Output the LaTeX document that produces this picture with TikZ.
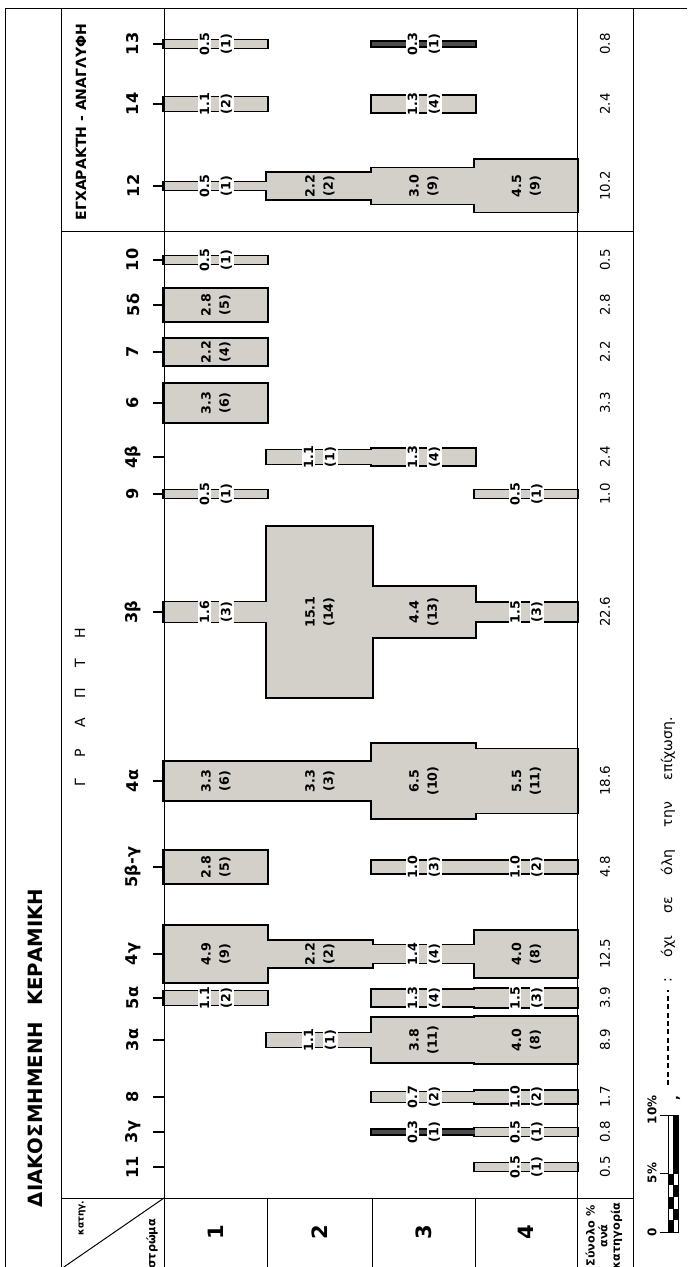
\documentclass[tikz,border=0pt]{standalone}
\usepackage{fontspec}
\setmainfont{DejaVu Sans}

\definecolor{barcol}{RGB}{210,208,200}

\tikzset{
  frame/.style={line width=0.7pt},
  edge/.style={line width=2.2pt},
  ticks/.style={line width=0.8pt},
  vallab/.style={rotate=90, inner sep=1pt, font=\bfseries\fontsize{9}{10}\selectfont},
  catlab/.style={rotate=90, font=\bfseries\fontsize{11.5}{13}\selectfont},
  totlab/.style={rotate=90, font=\fontsize{9.5}{11}\selectfont},
  rowlab/.style={rotate=90, font=\bfseries\fontsize{15}{16}\selectfont},
  seclab/.style={rotate=90, font=\fontsize{10}{12}\selectfont},
}

% bar pieces: centre / row / percent / number
\def\segs{44/1/0.5/1, 44/3/0.3/1,
  104/1/1.1/2, 104/3/1.3/4,
  186/1/0.5/1, 186/2/2.2/2, 186/3/3.0/9, 186/4/4.5/9,
  260/1/0.5/1, 305/1/2.8/5, 352/1/2.2/4, 403/1/3.3/6,
  457/2/1.1/1, 457/3/1.3/4,
  494/1/0.5/1, 494/4/0.5/1,
  612/1/1.6/3, 612/2/15.1/14, 612/3/4.4/13, 612/4/1.5/3,
  781/1/3.3/6, 781/2/3.3/3, 781/3/6.5/10, 781/4/5.5/11,
  867/1/2.8/5, 867/3/1.0/3, 867/4/1.0/2,
  954/1/4.9/9, 954/2/2.2/2, 954/3/1.4/4, 954/4/4.0/8,
  998/1/1.1/2, 998/3/1.3/4, 998/4/1.5/3,
  1040/2/1.1/1, 1040/3/3.8/11, 1040/4/4.0/8,
  1097/3/0.7/2, 1097/4/1.0/2,
  1132/3/0.3/1, 1132/4/0.5/1,
  1167/4/0.5/1}

% categories: centre / name / total
\def\cats{44/13/0.8, 104/14/2.4, 186/12/10.2, 260/10/0.5, 305/5δ/2.8,
  352/7/2.2, 403/6/3.3, 457/4β/2.4, 494/9/1.0, 612/3β/22.6, 781/4α/18.6,
  867/5β-γ/4.8, 954/4γ/12.5, 998/5α/3.9, 1040/3α/8.9, 1097/8/1.7,
  1132/3γ/0.8, 1167/11/0.5}

\begin{document}
\begin{tikzpicture}[x=0.25mm, y=-0.25mm]

\useasboundingbox (0,0) rectangle (687,1267);
\clip (0,0) rectangle (687,1267);

% outlines of the bars (thick), fills drawn over them
\foreach \yc/\rw/\pc/\nb in \segs {
  \pgfmathsetmacro\xa{{164,267,372,475}[\rw-1]}
  \pgfmathsetmacro\xb{{267,372,475,577}[\rw-1]}
  \pgfmathsetmacro\hw{0.75+5.6*\pc}
  \draw[edge] (\xa,\yc-\hw) rectangle (\xb,\yc+\hw);
}
\foreach \yc/\rw/\pc/\nb in \segs {
  \pgfmathsetmacro\xa{{164,267,372,475}[\rw-1]}
  \pgfmathsetmacro\xb{{267,372,475,577}[\rw-1]}
  \pgfmathsetmacro\hw{0.75+5.6*\pc}
  \ifdim\pc pt<0.4pt \def\barfill{black!70}\else\def\barfill{barcol}\fi
  \fill[\barfill] (\xa,\yc-\hw) rectangle (\xb,\yc+\hw);
}

% frame
\draw[frame] (5,8) -- (687,8);
\draw[frame] (5,8) -- (5,1267);
\draw[frame] (61,8) -- (61,1267);
\draw[frame] (164,8) -- (164,1267);
\draw[frame] (577,8) -- (577,1267);
\draw[frame] (633,8) -- (633,1267);
\draw[frame] (61,231) -- (633,231);
\draw[frame] (61,1198) -- (633,1198);
\foreach \xx in {267,372,475}
  \draw[frame] (\xx,1198) -- (\xx,1267);
\draw[frame] (164,1198) -- (61,1269);

% values in the bars
\foreach \yc/\rw/\pc/\nb [count=\k] in \segs {
  \pgfmathsetmacro\xc{{215.5,319.5,423.5,526}[\rw-1]}
  \ifdim\pc pt<2pt \def\lblfill{white}\def\lbloff{11}\else\def\lblfill{none}\def\lbloff{9.5}\fi
  \node[vallab, fill=\lblfill] (v\k) at (\xc-\lbloff,\yc) {\pc};
  \node[vallab, fill=\lblfill] (n\k) at (\xc+\lbloff,\yc) {(\nb)};
}

% category names, ticks and totals
\foreach \yc/\lab/\tot [count=\k] in \cats {
  \draw[ticks] (153,\yc) -- (164,\yc);
  \node[catlab] (c\k) at (133,\yc) {\lab};
  \node[totlab] (t\k) at (605,\yc) {\tot};
}

% headings
\node[rotate=90, anchor=west, font=\bfseries\fontsize{14}{16}\selectfont] (title)
  at (35,1212) {ΔΙΑΚΟΣΜΗΜΕΝΗ\hspace{4mm}ΚΕΡΑΜΙΚΗ};
\node[rotate=90, font=\bfseries\fontsize{10}{12}\selectfont] (egx) at (81,122)
  {ΕΓΧΑΡΑΚΤΗ - ΑΝΑΓΛΥΦΗ};
\foreach \ch [count=\i from 0] in {Γ,Ρ,Α,Π,Τ,Η}
  \node[seclab] (g\i) at (80,{783-30*\i}) {\ch};

% bottom strip
\node[rotate=90, font=\bfseries\fontsize{6.5}{7}\selectfont] (kat) at (82,1218) {κατηγ.};
\node[rotate=90, font=\bfseries\fontsize{8}{9}\selectfont] (str) at (152,1244) {στρώμα};
\foreach \xc/\rn in {215.5/1, 319.5/2, 423.5/3, 526/4}
  \node[rowlab] (r\rn) at (\xc,1232) {\rn};
\node[rotate=90, align=center, font=\bfseries\fontsize{8}{9}\selectfont] (sum)
  at (604,1236) {Σύνολο \%\\ανά\\κατηγορία};

% scale bar
\foreach \i in {0,2,4}
  \fill (668,{1232-11.7*\i}) rectangle (673,{1232-11.7*(\i+1)});
\foreach \i in {1,3}
  \fill (673,{1232-11.7*\i}) rectangle (678,{1232-11.7*(\i+1)});
\fill (673,1173.5) rectangle (678,1115);
\draw[frame] (668,1232) rectangle (678,1115);
\draw[frame] (673,1232) -- (673,1115);
\foreach \yy in {1232,1173.5,1115}
  \draw[frame] (660,\yy) -- (668,\yy);
\node[rotate=90, font=\bfseries\fontsize{8.5}{9}\selectfont] (s0) at (652,1232) {0};
\node[rotate=90, font=\bfseries\fontsize{8.5}{9}\selectfont] (s5) at (652,1173) {5\%};
\node[rotate=90, font=\bfseries\fontsize{8.5}{9}\selectfont] (s10) at (652,1110) {10\%};
\node[rotate=90, font=\bfseries\fontsize{9}{10}\selectfont] (comma) at (678,1098) {,};

% legend
\coordinate (da) at (668,1085);
\coordinate (db) at (668,990);
\draw[line width=1.2pt, dash pattern=on 3.5pt off 2.5pt] (da) -- (db);
\node[rotate=90, font=\fontsize{10}{11}\selectfont] (colon) at (668,980) {:};
\node[rotate=90, anchor=west, font=\fontsize{10}{11}\selectfont] (leg) at (668,962)
  {\makebox[60mm][s]{όχι σε όλη την επίχωση.}};

\end{tikzpicture}
\end{document}
